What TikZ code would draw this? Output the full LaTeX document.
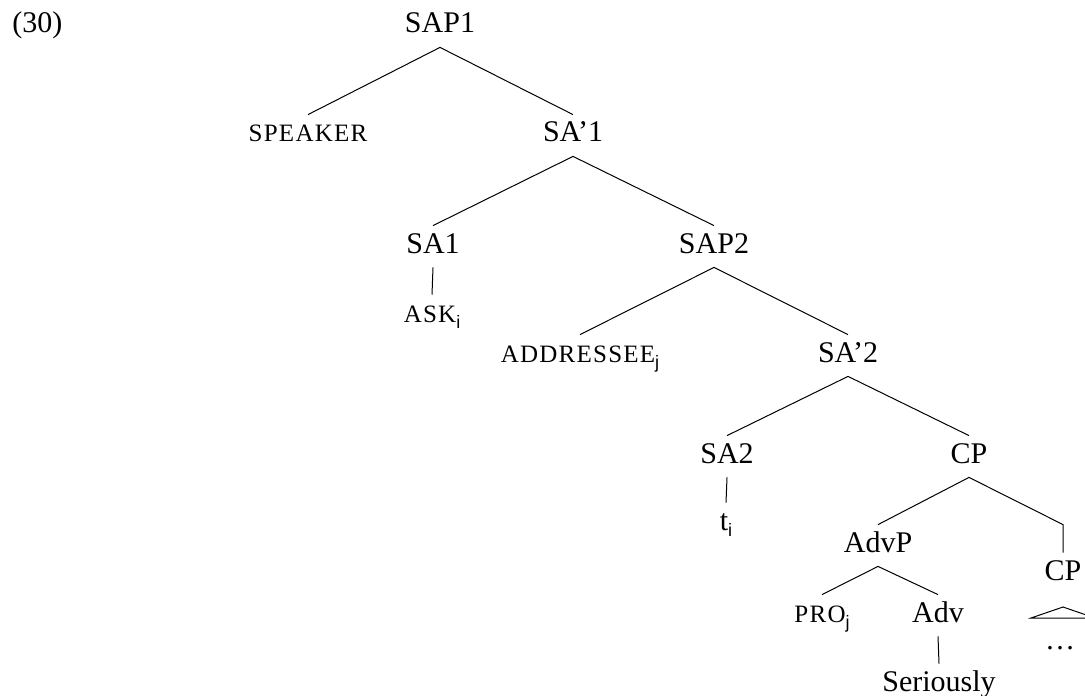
\documentclass[tikz,border=0pt]{standalone}
\usepackage{fontspec}
\setmainfont{Liberation Serif}
\setsansfont{Liberation Sans}
\newfontfamily\scfont[LetterSpace=5]{Liberation Serif}
\newcommand\subsc[1]{\raisebox{-3pt}{\fontsize{9}{10}\sffamily #1}}
\newcommand\smc[1]{{\fontsize{12.5}{14}\scfont #1}}
\begin{document}
\begin{tikzpicture}[x=0.5pt,y=-0.5pt,
  lab/.style={anchor=base,inner sep=0pt,text height=13.5pt,text depth=7pt,font=\fontsize{15}{18}\selectfont},
  edge/.style={line width=0.5pt}]
\useasboundingbox (0,0) rectangle (1085,695);
\node[lab,anchor=base west] (ex) at (12,33) {(30)};
\node[lab] (sap1) at (440,33) {SAP1};
\node[lab] (speaker) at (308,142) {\smc{SPEAKER}};
\node[lab] (sa1p) at (573,142) {SA'1};
\node[lab] (sa1) at (433,253) {SA1};
\node[lab] (ask) at (432,322) {\smc{ASK}\subsc{i}};
\node[lab] (sap2) at (714,253) {SAP2};
\node[lab] (addr) at (580,362) {\smc{ADDRESSEE}\subsc{j}};
\node[lab] (sa2p) at (848,362) {SA'2};
\node[lab] (sa2) at (727,463) {SA2};
\node[lab] (t) at (726,530) {t\subsc{i}};
\node[lab] (cp) at (969,463) {CP};
\node[lab] (advp) at (878,552) {AdvP};
\node[lab] (cp2) at (1063,580) {CP};
\node[lab] (pro) at (822,622) {\smc{PRO}\subsc{j}};
\node[lab] (adv) at (938,622) {Adv};
\node[lab] (ser) at (939,691) {Seriously};
\node[lab] (dots) at (1060,649) {\dots};
\coordinate (tri) at (1063,607);
\draw[edge] (speaker.north) -- (sap1.south) -- (sa1p.north);
\draw[edge] (sa1.north) -- (sa1p.south) -- (sap2.north);
\draw[edge] (sa1.south) -- (ask.north);
\draw[edge] (addr.north) -- (sap2.south) -- (sa2p.north);
\draw[edge] (sa2.north) -- (sa2p.south) -- (cp.north);
\draw[edge] (sa2.south) -- (t.north);
\draw[edge] (advp.north) -- (cp.south) -- (cp2.north |- advp.north) -- (cp2.north);
\draw[edge] (pro.north) -- (advp.south) -- (adv.north);
\draw[edge] (adv.south) -- (ser.north);
\draw[edge] (tri) -- ++(-32,11) -- ++(64,0) -- cycle;
\end{tikzpicture}
\end{document}
